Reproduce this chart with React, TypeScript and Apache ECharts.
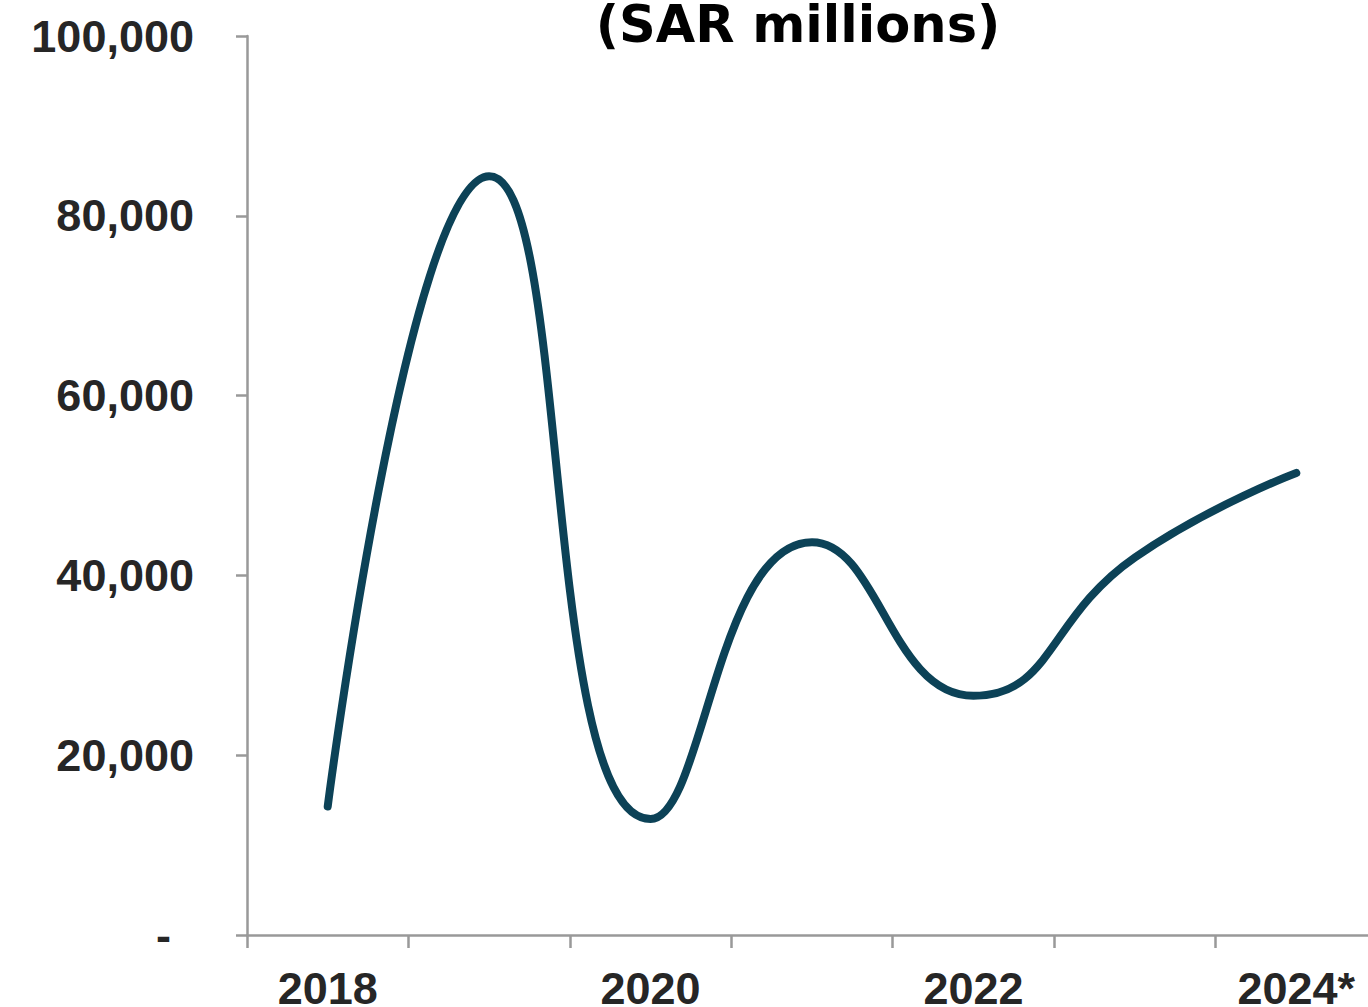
import React, { useEffect, useRef } from "react";
import * as echarts from "echarts";

const years = ["2018", "2019", "2020", "2021", "2022", "2023", "2024*"];
const values = [14300, 84400, 12900, 43700, 26600, 42000, 51400];
const titleText = "(SAR millions)";

export default function App() {
  const ref = useRef<HTMLDivElement>(null);
  useEffect(() => {
    if (!ref.current) return;
    const chart = echarts.init(ref.current, undefined, { renderer: "svg" });
    const labelFont = {
      fontFamily: "Liberation Sans, Arial, sans-serif",
      fontWeight: "bold" as const,
      fontSize: 45,
      color: "#262626",
    };
    chart.setOption({
      animation: false,
      backgroundColor: "#ffffff",
      grid: {
        left: 247,
        right: 0,
        top: 36,
        bottom: 72,
        containLabel: false,
        outerBoundsMode: "none",
      },
      graphic: [
        {
          type: "text",
          x: 798,
          y: -1,
          style: {
            text: titleText,
            fontFamily: "DejaVu Sans, sans-serif",
            fontWeight: "bold",
            fontSize: 51,
            fill: "#000000",
            textAlign: "center",
            textVerticalAlign: "top",
          },
        },
      ],
      xAxis: {
        type: "category",
        data: years,
        boundaryGap: true,
        axisLine: { show: true, lineStyle: { color: "#999999", width: 2.5 } },
        axisTick: {
          show: true,
          interval: 0,
          alignWithLabel: false,
          length: 13,
          lineStyle: { color: "#999999", width: 2.5 },
        },
        axisLabel: { ...labelFont, interval: 1, margin: 31 },
        splitLine: { show: false },
      },
      yAxis: {
        type: "value",
        min: 0,
        max: 100000,
        interval: 20000,
        axisLine: { show: true, lineStyle: { color: "#999999", width: 2.5 } },
        axisTick: { show: true, length: 11, lineStyle: { color: "#999999", width: 2.5 } },
        splitLine: { show: false },
        axisLabel: {
          ...labelFont,
          margin: 53,
          formatter: (v: number) =>
            v === 0 ? "{d|-}" : v.toLocaleString("en-US"),
          rich: {
            d: { ...labelFont, padding: [0, 23, 0, 0] },
          },
        },
      },
      series: [
        {
          type: "line",
          data: values,
          smooth: 0.5,
          showSymbol: false,
          symbol: "none",
          lineStyle: { color: "#0c4257", width: 8, cap: "round" },
        },
      ],
    });
    return () => chart.dispose();
  }, []);
  return (
    <div
      ref={ref}
      style={{ position: "fixed", left: 0, top: 0, width: 1377, height: 1007 }}
    />
  );
}
